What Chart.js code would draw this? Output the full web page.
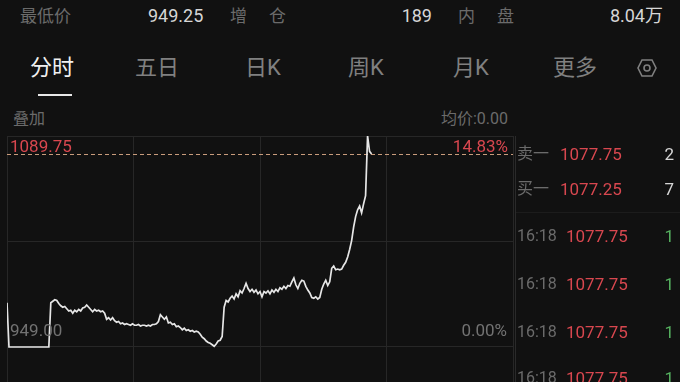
<!DOCTYPE html>
<html>
<head>
<meta charset="utf-8">
<script src="https://cdn.jsdelivr.net/npm/chart.js@4.4.1/dist/chart.umd.min.js"></script>
<style>
    html, body { margin: 0; padding: 0; background: #111111; }
    #page {
        position: relative; width: 680px; height: 382px; overflow: hidden; background: #111111;
        font-family: Roboto, "Noto Sans CJK SC", sans-serif;
    }
    .t { position: absolute; white-space: nowrap; height: 20px; line-height: 20px; }
    .r { text-align: right; }
    .gray { color: #6b6b6b; }
    .white { color: #d6d6d6; }
    .red { color: #d8474f; }
    .green { color: #55b05f; }
    .tab { color: #808080; font-size: 22px; height: 30px; line-height: 30px; }
    #chartBox { position: absolute; left: 0; top: 130px; width: 515px; height: 252px; }
</style>
</head>
<body>
<div id="page">
    <!-- top quote row -->
    <div class="t gray" style="left:20px;top:6px;font-size:17px;">最低价</div>
    <div class="t white" style="left:148px;top:6px;font-size:18px;">949.25</div>
    <div class="t gray" style="left:230px;top:6px;font-size:17px;">增</div>
    <div class="t gray" style="left:269px;top:6px;font-size:17px;">仓</div>
    <div class="t white r" style="right:248px;top:6px;font-size:18px;">189</div>
    <div class="t gray" style="left:458px;top:6px;font-size:17px;">内</div>
    <div class="t gray" style="left:497px;top:6px;font-size:17px;">盘</div>
    <div class="t white r" style="right:17px;top:6px;font-size:18px;">8.04万</div>

    <!-- tabs -->
    <div class="t tab" style="left:30px;top:53px;color:#f0f0f0;">分时</div>
    <div class="t tab" style="left:135px;top:53px;">五日</div>
    <div class="t tab" style="left:245px;top:53px;">日K</div>
    <div class="t tab" style="left:348px;top:53px;">周K</div>
    <div class="t tab" style="left:453px;top:53px;">月K</div>
    <div class="t tab" style="left:553px;top:53px;">更多</div>
    <svg style="position:absolute;left:637px;top:58px;" width="20" height="20" viewBox="0 0 20 20">
        <polygon points="5,2 15,2 19,10 15,18 5,18 1,10" fill="none" stroke="#808080" stroke-width="1.6"/>
        <circle cx="10" cy="10" r="3" fill="none" stroke="#808080" stroke-width="1.6"/>
    </svg>
    <div style="position:absolute;left:38px;top:94px;width:34px;height:2px;background:#e8e8e8;"></div>

    <div class="t gray" style="left:13px;top:109px;font-size:16px;">叠加</div>
    <div class="t gray r" style="right:172px;top:109px;font-size:16px;">均价:0.00</div>

    <div id="chartBox"><canvas id="minuteChart" width="515" height="252"></canvas></div>

    <!-- labels inside the chart -->
    <div class="t red" style="left:10px;top:136px;font-size:17px;">1089.75</div>
    <div class="t red r" style="right:172px;top:136px;font-size:17px;">14.83%</div>
    <div class="t gray" style="left:10px;top:320px;font-size:17px;color:#727272;">949.00</div>
    <div class="t gray r" style="right:173px;top:320px;font-size:17px;color:#727272;">0.00%</div>

    <!-- order book / ticks panel -->
    <div style="position:absolute;left:515px;top:136px;width:1px;height:246px;background:#2a2a2a;"></div>
    <div style="position:absolute;left:516px;top:212px;width:164px;height:1px;background:#1c1c1c;"></div>
    <div id="panel"></div>
</div>

<script>
// price series, one value per 2-px time slot
const prices = [
    978.5,
    949, 949, 949, 949, 949, 949, 949, 949, 949, 949, 949, 949, 949, 949, 949, 949, 949, 949, 949, 949, 949,
    978.5, 979.5, 980.5, 980.0, 978.0, 976.5, 975.5, 976.0, 974.5, 973.0,
    973.5, 971.5, 973.5, 972.5, 974.0, 973.0, 975.0, 975.5, 977.0, 975.5,
    974.0, 972.5, 974.0, 973.0, 973.5, 972.5, 973.0, 971.5, 967.5, 968.5,
    967.0, 968.5, 966.5, 965.5, 966.0, 964.5, 965.0, 964.0, 964.5, 964.0,
    963.5, 964.5, 963.5, 963.5, 964.0, 963.0, 963.5, 963.5, 963.0, 963.5,
    963.0, 964.0, 964.0, 964.5, 966.0, 970.5, 969.0, 967.5, 969.0, 965.0,
    965.5, 964.0, 964.5, 962.5, 963.0, 962.0, 960.5, 961.5, 960.0, 960.5,
    959.5, 960.0, 959.0, 959.5, 959.0, 957.5, 955.5, 954.5, 953.0, 952.0,
    951.5, 950.5, 949.5, 951.0, 953.0, 953.5, 956.0, 975.5, 980.0, 979.0,
    981.5, 983.0, 981.0, 984.5, 982.5, 986.5, 985.0, 988.0, 991.5, 988.0,
    986.0, 987.5, 985.5, 987.0, 984.5, 986.0, 982.5, 986.0, 985.0, 986.5,
    984.5, 987.0, 985.5, 987.5, 986.0, 988.5, 987.5, 989.5, 988.0, 990.0,
    989.5, 992.5, 995.0, 990.5, 988.0, 991.5, 993.5, 993.0, 989.5, 987.0,
    985.0, 982.0, 981.5, 982.5, 981.0, 982.0, 987.5, 991.0, 993.5, 990.0,
    992.5, 1001.5, 1003.0, 1000.5, 1001.0, 1000.5, 1001.0, 1003.5, 1005.5, 1009.0,
    1014.0, 1020.0, 1029.0, 1036.0, 1040.5, 1043.0, 1038.5, 1044.5, 1050.0, 1089.75,
    1079.5, 1077.75
];
const sessionSlots = 254;
const xGrid = [0, 63.5, 127, 190.5, 254];
const yGrid = [949.00, 1019.375, 1089.75];
const yBottom = 925.65;   // axis runs below the prev close into the volume gap
const lastPrice = 1077.75;

const bookLabels = ["卖一", "买一", "16:18", "16:18", "16:18", "16:18"];
const bookPrices = ["1077.75", "1077.25", "1077.75", "1077.75", "1077.75", "1077.75"];
const bookVols = ["2", "7", "1", "1", "1", "1"];
const bookRowY = [154, 189, 236, 284, 332, 378];

// right side panel
const panel = document.getElementById("panel");
panel.innerHTML = bookLabels.map((lab, i) => {
    const top = bookRowY[i] - 10;
    const priceLeft = i < 2 ? 560 : 566;
    const volClass = i < 2 ? "white" : "green";
    return `
        <div class="t gray" style="left:517px;top:${top}px;font-size:16px;">${lab}</div>
        <div class="t red" style="left:${priceLeft}px;top:${top}px;font-size:17px;">${bookPrices[i]}</div>
        <div class="t r ${volClass}" style="right:6px;top:${top}px;font-size:17px;">${bookVols[i]}</div>`;
}).join('');

const lastPriceLine = {
    id: "lastPriceLine",
    beforeDatasetsDraw(chart) {
        const { ctx, chartArea, scales } = chart;
        const y = Math.round(scales.y.getPixelForValue(lastPrice)) + 0.5;
        ctx.save();
        ctx.strokeStyle = "#c99c7c";
        ctx.lineWidth = 1;
        ctx.setLineDash([4, 3]);
        ctx.beginPath();
        ctx.moveTo(chartArea.left, y);
        ctx.lineTo(chartArea.right, y);
        ctx.stroke();
        ctx.restore();
    }
};

const ctx = document.getElementById("minuteChart").getContext("2d");
new Chart(ctx, {
    type: "line",
    data: {
        datasets: [{
            data: prices.map((p, i) => ({ x: i, y: p })),
            borderColor: "#e6e6e6",
            borderWidth: 1.7,
            pointRadius: 0,
            tension: 0,
            fill: false
        }]
    },
    options: {
        responsive: false,
        animation: false,
        layout: { padding: { left: 7, top: 6, right: 2, bottom: 0 } },
        plugins: { legend: { display: false }, tooltip: { enabled: false } },
        scales: {
            x: {
                type: "linear", min: 0, max: sessionSlots,
                afterBuildTicks: s => { s.ticks = xGrid.map(v => ({ value: v })); },
                ticks: { display: false },
                grid: { color: "#272727", drawTicks: false },
                border: { display: false }
            },
            y: {
                min: yBottom, max: 1089.75,
                afterBuildTicks: s => { s.ticks = yGrid.map(v => ({ value: v })); },
                ticks: { display: false },
                grid: { color: "#272727", drawTicks: false },
                border: { display: false }
            }
        }
    },
    plugins: [lastPriceLine]
});
</script>
</body>
</html>
